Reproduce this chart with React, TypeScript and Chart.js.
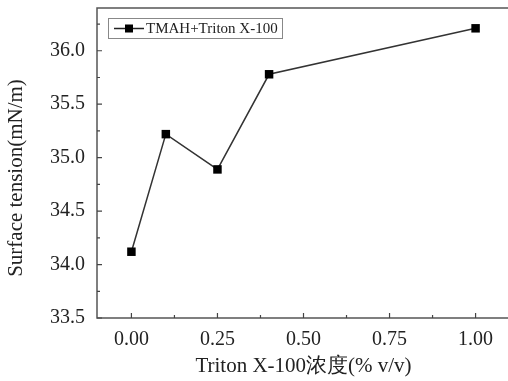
import React, { useEffect, useRef } from "react";
import { Chart, registerables } from "chart.js";

Chart.register(...registerables);

const concentrations = [0, 0.1, 0.25, 0.4, 1.0];
const surfaceTension = [34.12, 35.22, 34.89, 35.78, 36.21];
const xTicks = [0, 0.25, 0.5, 0.75, 1.0];
const yTicks = [33.5, 34.0, 34.5, 35.0, 35.5, 36.0];
const seriesLabel = "TMAH+Triton X-100";
const xTitle = "Triton X-100浓度(% v/v)";
const yTitle = "Surface tension(mN/m)";

const SERIF = "'Liberation Serif', 'Times New Roman', serif";

const framePlugin = {
  id: "frame",
  afterDraw(chart: any) {
    const { ctx, chartArea } = chart;
    const xs = chart.scales.x;
    const ys = chart.scales.y;
    ctx.save();
    ctx.strokeStyle = "#555";
    ctx.lineWidth = 1.5;
    ctx.strokeRect(chartArea.left, chartArea.top, chartArea.right - chartArea.left, chartArea.bottom - chartArea.top);
    ctx.lineWidth = 1.2;
    ctx.strokeStyle = "#444";
    ctx.beginPath();
    for (let i = 0; i < xTicks.length; i++) {
      const px = xs.getPixelForValue(xTicks[i]);
      ctx.moveTo(px, chartArea.bottom);
      ctx.lineTo(px, chartArea.bottom - 5);
      if (i < xTicks.length - 1) {
        const mx = xs.getPixelForValue((xTicks[i] + xTicks[i + 1]) / 2);
        ctx.moveTo(mx, chartArea.bottom);
        ctx.lineTo(mx, chartArea.bottom - 3);
      }
    }
    for (let i = 0; i < yTicks.length; i++) {
      const py = ys.getPixelForValue(yTicks[i]);
      ctx.moveTo(chartArea.left, py);
      ctx.lineTo(chartArea.left + 5, py);
      const next = i < yTicks.length - 1 ? yTicks[i + 1] : yTicks[i] + 0.5;
      const mv = (yTicks[i] + next) / 2;
      if (mv < ys.max) {
        const my = ys.getPixelForValue(mv);
        ctx.moveTo(chartArea.left, my);
        ctx.lineTo(chartArea.left + 3, my);
      }
    }
    ctx.stroke();

    // y-axis title
    ctx.save();
    ctx.translate(16, 178);
    ctx.rotate(-Math.PI / 2);
    ctx.font = `21px ${SERIF}`;
    ctx.fillStyle = "#222";
    ctx.textAlign = "center";
    ctx.textBaseline = "middle";
    ctx.fillText(yTitle, 0, 0);
    ctx.restore();

    // legend
    const bx = 108, by = 18, bw = 174, bh = 20;
    ctx.fillStyle = "#fff";
    ctx.fillRect(bx, by, bw, bh);
    ctx.strokeStyle = "#888";
    ctx.lineWidth = 1;
    ctx.strokeRect(bx + 0.5, by + 0.5, bw, bh);
    const cy = by + bh / 2 + 0.5;
    ctx.strokeStyle = "#222";
    ctx.lineWidth = 1.5;
    ctx.beginPath();
    ctx.moveTo(bx + 6, cy);
    ctx.lineTo(bx + 36, cy);
    ctx.stroke();
    ctx.fillStyle = "#000";
    ctx.fillRect(bx + 21 - 4, cy - 4, 8, 8);
    ctx.font = `15px ${SERIF}`;
    ctx.textBaseline = "middle";
    ctx.textAlign = "left";
    ctx.fillStyle = "#222";
    ctx.fillText(seriesLabel, bx + 38, cy + 1);
    ctx.restore();
  },
};

export default function App() {
  const ref = useRef<HTMLCanvasElement | null>(null);
  useEffect(() => {
    document.body.style.overflow = "hidden";
    const canvas = ref.current!;
    const chart = new Chart(canvas, {
      type: "line",
      data: {
        datasets: [
          {
            label: seriesLabel,
            data: concentrations.map((x, i) => ({ x, y: surfaceTension[i] })),
            borderColor: "#333",
            borderWidth: 1.5,
            pointStyle: "rect",
            pointRadius: 6,
            pointBackgroundColor: "#000",
            pointBorderColor: "#000",
            pointBorderWidth: 0,
            tension: 0,
          },
        ],
      },
      options: {
        animation: false,
        responsive: false,
        maintainAspectRatio: false,
        layout: { autoPadding: false, padding: { top: 8, right: 2, left: 0, bottom: 0 } },
        plugins: { legend: { display: false }, tooltip: { enabled: false } },
        scales: {
          x: {
            type: "linear",
            min: -0.1,
            max: 1.1,
            afterBuildTicks: (s: any) => {
              s.ticks = xTicks.map((v) => ({ value: v }));
            },
            afterFit: (s: any) => {
              s.height = 63;
              s.paddingLeft = 0;
              s.paddingRight = 0;
            },
            grid: { display: false, drawTicks: false },
            border: { display: false },
            ticks: {
              padding: 10,
              color: "#222",
              font: { family: SERIF, size: 20 },
              maxRotation: 0,
              callback: (v: any) => Number(v).toFixed(2),
            },
            title: {
              display: true,
              text: xTitle,
              color: "#222",
              font: { family: SERIF, size: 21 },
              padding: { top: 0, bottom: 2 },
            },
          },
          y: {
            type: "linear",
            min: 33.5,
            max: 36.4,
            afterBuildTicks: (s: any) => {
              s.ticks = yTicks.map((v) => ({ value: v }));
            },
            afterFit: (s: any) => {
              s.width = 97;
              s.paddingTop = 0;
              s.paddingBottom = 0;
            },
            grid: { display: false, drawTicks: false },
            border: { display: false },
            ticks: {
              padding: 12,
              color: "#222",
              font: { family: SERIF, size: 20 },
              callback: (v: any) => Number(v).toFixed(1),
            },
            title: { display: false },
          },
        },
      },
      plugins: [framePlugin],
    } as any);
    return () => chart.destroy();
  }, []);
  return (
    <div style={{ position: "fixed", left: 0, top: 0, width: 512, height: 381, background: "#fff" }}>
      <canvas ref={ref} width={512} height={381} style={{ width: 512, height: 381, display: "block" }} />
    </div>
  );
}
